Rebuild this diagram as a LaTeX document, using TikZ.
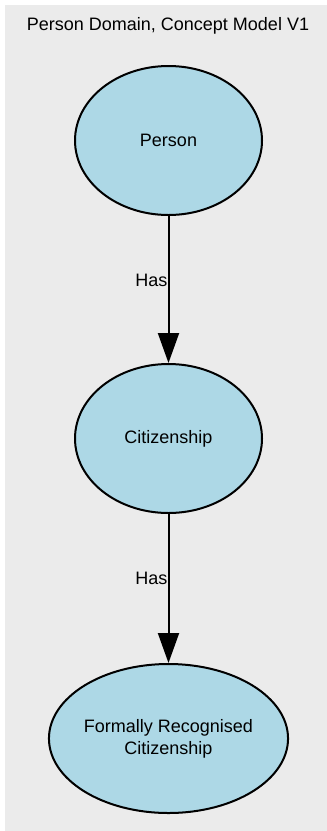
\documentclass[tikz,border=0pt]{standalone}
\usepackage{fontspec}
\setmainfont{Liberation Sans}
\usepackage{tikz}
\usetikzlibrary{shapes.geometric,arrows.meta}
\definecolor{panelgrey}{HTML}{EBEBEB}
\definecolor{conceptblue}{HTML}{ADD8E6}

\begin{document}
\begin{tikzpicture}[x=1pt,y=-1pt,
    concept/.style={ellipse, draw=black, line width=2pt, fill=conceptblue,
      minimum width=187pt, minimum height=149pt, inner sep=0pt, align=center,
      font=\fontsize{18}{22}\selectfont},
    rel/.style={line width=2pt, -{Triangle[length=30pt,width=21pt]}},
    rellabel/.style={anchor=east, inner sep=0pt, font=\fontsize{18}{22}\selectfont}]
  %% Background panel
  \useasboundingbox (0,0) rectangle (327,831);
  \fill[panelgrey] (5,5) rectangle (327,831);
  \node[font=\fontsize{18}{22}\selectfont] (title) at (168,26) {Person Domain, Concept Model V1};

  %% Concepts
  \node[concept] (person) at (168.5,140.5) {Person};
  \node[concept] (citizenship) at (168.5,438.5) {Citizenship};
  \node[concept, minimum width=235pt] (formal) at (168.5,738.5) {Formally Recognised\\Citizenship};

  %% Relations
  \draw[rel] (person) -- node[rellabel, pos=0.44] (has1) {Has} (citizenship);
  \draw[rel] (citizenship) -- node[rellabel, pos=0.43] (has2) {Has} (formal);
\end{tikzpicture}
\end{document}
